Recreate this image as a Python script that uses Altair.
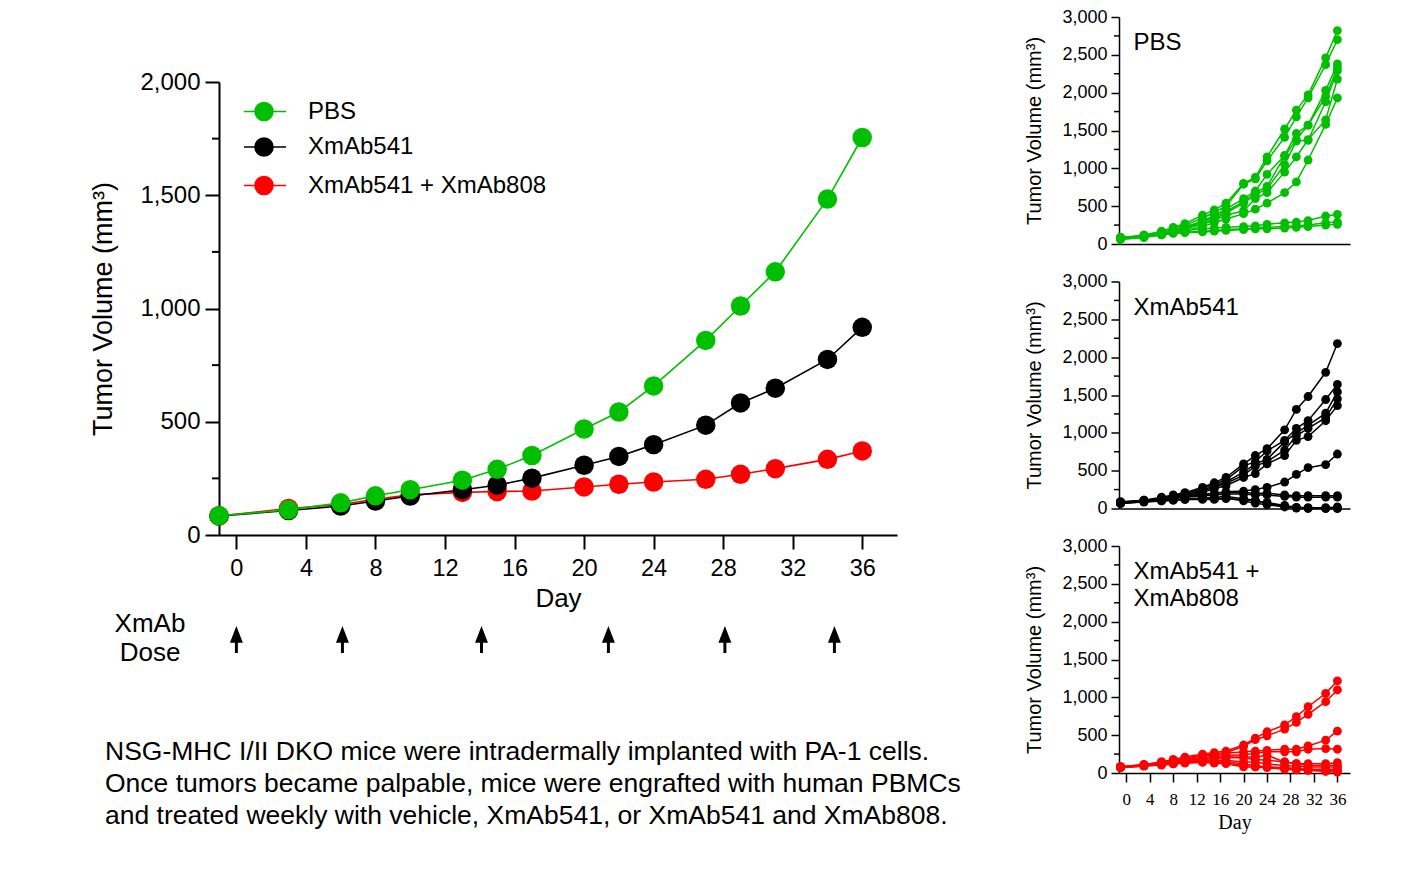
import altair as alt
import pandas as pd

SANS = "Liberation Sans"
SERIF = "Liberation Serif"

# ---------------- data ----------------
days = [-1, 3, 6, 8, 10, 13, 15, 17, 20, 22, 24, 27, 29, 31, 34, 36]
group_names = ["PBS", "XmAb541", "XmAb541 + XmAb808"]
group_colors = ["#00BF00", "#000000", "#FF0000"]

pbs_mean = [85, 111, 142, 173, 200, 242, 290, 351, 468, 543, 658, 859, 1011, 1162, 1483, 1755]
xmab541_mean = [84, 108, 128, 150, 172, 200, 220, 251, 308, 347, 399, 485, 583, 648, 775, 917]
combo_mean = [84, 117, 135, 158, 177, 188, 192, 194, 212, 224, 234, 246, 268, 293, 334, 371]

dose_days = [0, 6.1, 14.1, 21.4, 28.1, 34.4]

main_x_ticks = [0, 4, 8, 12, 16, 20, 24, 28, 32, 36]
main_y_ticks = [0, 500, 1000, 1500, 2000]
main_y_minor = [250, 750, 1250, 1750]
panel_y_ticks = [0, 500, 1000, 1500, 2000, 2500, 3000]
panel_y_minor = [250, 750, 1250, 1750, 2250, 2750]

pbs_mice = [
    [80, 120, 170, 220, 270, 380, 450, 540, 800, 880, 1150, 1520, 1770, 1970, 2460, 2820],
    [80, 110, 160, 210, 250, 340, 420, 500, 790, 860, 1100, 1410, 1680, 1930, 2370, 2700],
    [75, 100, 150, 190, 230, 300, 380, 460, 600, 700, 920, 1170, 1460, 1570, 2030, 2380],
    [70, 100, 140, 180, 220, 290, 360, 430, 560, 680, 760, 1160, 1380, 1570, 1950, 2330],
    [70, 95, 130, 170, 210, 270, 330, 410, 540, 650, 730, 1050, 1360, 1370, 1880, 2290],
    [65, 90, 130, 160, 200, 260, 310, 380, 440, 600, 680, 950, 1150, 1380, 1640, 2180],
    [60, 85, 120, 150, 180, 230, 280, 330, 400, 460, 540, 680, 820, 1110, 1580, 1930],
    [90, 110, 140, 160, 180, 200, 210, 220, 230, 240, 260, 280, 290, 310, 370, 390],
    [85, 100, 130, 150, 160, 170, 180, 190, 200, 210, 220, 230, 240, 250, 280, 290],
    [80, 95, 120, 140, 150, 160, 170, 180, 190, 200, 200, 210, 220, 230, 250, 260],
]
xmab541_mice = [
    [80, 110, 150, 180, 210, 280, 340, 410, 590, 700, 790, 1040, 1310, 1480, 1800, 2180],
    [75, 100, 140, 170, 200, 260, 320, 380, 560, 620, 760, 900, 1060, 1160, 1440, 1640],
    [70, 100, 130, 160, 190, 240, 300, 350, 480, 590, 650, 880, 1000, 1100, 1260, 1540],
    [70, 95, 130, 150, 180, 230, 280, 330, 440, 560, 620, 770, 960, 1060, 1200, 1450],
    [65, 90, 120, 140, 170, 210, 260, 300, 410, 460, 590, 700, 900, 950, 1160, 1360],
    [80, 100, 120, 140, 160, 180, 200, 220, 230, 250, 280, 350, 450, 540, 580, 720],
    [90, 110, 130, 150, 170, 190, 200, 210, 210, 200, 200, 180, 170, 170, 170, 170],
    [85, 100, 120, 140, 150, 170, 180, 190, 190, 180, 180, 160, 150, 150, 150, 150],
    [80, 95, 110, 120, 130, 140, 150, 160, 130, 110, 66, 30, 10, 5, 0, 0],
    [75, 90, 100, 110, 120, 130, 130, 140, 100, 70, 50, 20, 5, 0, 0, 0],
    [70, 85, 100, 110, 120, 120, 120, 130, 120, 100, 80, 40, 15, 10, 10, 20],
]
combo_mice = [
    [80, 110, 150, 180, 210, 250, 270, 290, 370, 460, 545, 635, 745, 876, 1053, 1217],
    [75, 105, 140, 170, 200, 230, 250, 270, 350, 440, 490, 580, 670, 775, 942, 1097],
    [80, 110, 140, 160, 190, 220, 240, 260, 280, 290, 300, 315, 315, 358, 434, 553],
    [75, 100, 130, 150, 180, 200, 220, 230, 240, 260, 280, 280, 280, 314, 323, 314],
    [80, 105, 130, 150, 170, 190, 200, 210, 212, 212, 235, 146, 123, 123, 123, 137],
    [85, 110, 135, 155, 175, 180, 190, 200, 200, 180, 168, 146, 123, 100, 100, 100],
    [80, 100, 120, 140, 160, 170, 170, 170, 146, 146, 120, 100, 90, 80, 80, 80],
    [75, 95, 115, 130, 150, 160, 160, 150, 120, 100, 80, 70, 60, 50, 50, 50],
    [70, 95, 110, 120, 140, 150, 140, 130, 100, 80, 80, 60, 60, 35, 35, 30],
    [70, 90, 105, 120, 130, 140, 130, 123, 80, 80, 70, 50, 40, 35, 20, 13],
]

main_y_title = "Tumor Volume (mm³)"
panel_y_title = "Tumor Volume (mm³)"
x_title = "Day"
dose_label = ["XmAb", "Dose"]
panel_labels = [["PBS"], ["XmAb541"], ["XmAb541 +", "XmAb808"]]
footnote_lines = [
    "NSG-MHC I/II DKO mice were intradermally implanted with PA-1 cells.",
    "Once tumors became palpable, mice were engrafted with human PBMCs",
    "and treated weekly with vehicle, XmAb541, or XmAb541 and XmAb808.",
]

ARROW = "M0,-1L0.48,0.24L0.11,0.24L0.11,1L-0.11,1L-0.11,0.24L-0.48,0.24Z"
one = pd.DataFrame({"k": [0]})

# ---------------- main chart ----------------
MW, MH = 678, 453
mx = alt.X("day:Q", scale=alt.Scale(domain=[-1, 38], nice=False, zero=False),
           axis=alt.Axis(values=main_x_ticks, title=x_title, tickSize=14, tickWidth=2,
                         domainWidth=2, labelFontSize=23.5, labelPadding=19,
                         labelBaseline="middle", titleFontSize=26, titleBaseline="middle",
                         titleX=MW / 2, titleY=63))
my = alt.Y("vol:Q", scale=alt.Scale(domain=[0, 2000], nice=False),
           axis=alt.Axis(values=main_y_ticks, format=",d", title=main_y_title, tickSize=14,
                         tickWidth=2, domainWidth=2, labelFontSize=24, labelPadding=5,
                         titleFontSize=27, titleBaseline="middle", titleX=-116, titleY=MH / 2))

layers = []
layers.append(alt.Chart(pd.DataFrame({"vol": main_y_minor})).mark_rule(color="black", strokeWidth=2)
              .encode(y=my, x=alt.value(-7), x2=alt.value(0)))
# invisible rule fixing the right extent of the left column
layers.append(alt.Chart(one).mark_rule(opacity=0, strokeWidth=0.5)
              .encode(x=alt.value(0), x2=alt.value(797), y=alt.value(1)))

means = [pbs_mean, xmab541_mean, combo_mean]
for gi in [2, 1, 0]:
    df = pd.DataFrame({"day": days, "vol": means[gi]})
    layers.append(alt.Chart(df).mark_line(color=group_colors[gi], strokeWidth=1.6)
                  .encode(x=mx, y=my))
    layers.append(alt.Chart(df).mark_point(filled=True, shape="circle", size=380, opacity=1,
                                           color=group_colors[gi], strokeWidth=0)
                  .encode(x=mx, y=my))

layers.append(alt.Chart(pd.DataFrame({"day": dose_days})).mark_point(
    shape=ARROW, filled=True, size=729, color="black", opacity=1, strokeWidth=0)
    .encode(x=mx, y=alt.value(557.5)))

legend_y = [29.5, 65, 103.5]
for gi in range(3):
    layers.append(alt.Chart(one).mark_rule(color=group_colors[gi], strokeWidth=1.6)
                  .encode(x=alt.value(25), x2=alt.value(67), y=alt.value(legend_y[gi])))
    layers.append(alt.Chart(one).mark_point(filled=True, shape="circle", size=380, opacity=1,
                                            color=group_colors[gi], strokeWidth=0)
                  .encode(x=alt.value(45), y=alt.value(legend_y[gi])))
    layers.append(alt.Chart(one).mark_text(text=group_names[gi], font=SANS, fontSize=24,
                                           align="left", baseline="middle", color="black")
                  .encode(x=alt.value(89), y=alt.value(legend_y[gi])))

layers.append(alt.Chart(one).mark_text(text=dose_label, font=SANS, fontSize=26, lineHeight=29,
                                       align="center", baseline="alphabetic", color="black")
              .encode(x=alt.value(-69), y=alt.value(550)))
layers.append(alt.Chart(one).mark_text(text=footnote_lines, font=SANS, fontSize=26.5, lineHeight=32,
                                       align="left", baseline="alphabetic", color="black")
              .encode(x=alt.value(-114), y=alt.value(678)))

main = alt.layer(*layers).properties(width=MW, height=MH)

# spacer that pushes the main plot down relative to the first small panel
spacer = alt.Chart(one).mark_rule(opacity=0, strokeWidth=0.5).encode(
    x=alt.value(0), x2=alt.value(MW), y=alt.value(1)).properties(width=MW, height=65)

left = alt.vconcat(spacer, main, spacing=0, bounds="flush")

# ---------------- panels ----------------
PW, PH = 231, 227


def panel(mice, color, label_lines, show_x):
    rows = []
    for m, series in enumerate(mice):
        for d, v in zip(days, series):
            rows.append({"mouse": m, "day": d, "vol": v})
    df = pd.DataFrame(rows)
    if show_x:
        xaxis = alt.Axis(values=main_x_ticks, title=x_title, tickSize=9, tickWidth=1.5,
                         domainWidth=1.5, labelFont=SERIF, labelFontSize=17,
                         labelBaseline="middle", labelPadding=17, titleFont=SERIF,
                         titleFontSize=20, titleBaseline="middle", titleX=PW / 2, titleY=49)
    else:
        xaxis = alt.Axis(ticks=False, labels=False, title="", domainWidth=1.5)
    px = alt.X("day:Q", scale=alt.Scale(domain=[-1.25, 38.15], nice=False, zero=False), axis=xaxis)
    py = alt.Y("vol:Q", scale=alt.Scale(domain=[0, 3000], nice=False),
               axis=alt.Axis(values=panel_y_ticks, format=",d", title=panel_y_title, tickSize=8,
                             tickWidth=1.5, domainWidth=1.5, labelFontSize=18, labelPadding=4,
                             titleFontSize=20, titleBaseline="middle", titleX=-84.5,
                             titleY=PH / 2))
    minor = alt.Chart(pd.DataFrame({"vol": panel_y_minor})).mark_rule(color="black", strokeWidth=1.5) \
        .encode(y=py, x=alt.value(-5), x2=alt.value(0))
    lines = alt.Chart(df).mark_line(color=color, strokeWidth=1.5).encode(
        x=px, y=py, detail="mouse:N")
    pts = alt.Chart(df).mark_point(filled=True, shape="circle", size=78, opacity=1,
                                   color=color, strokeWidth=0).encode(x=px, y=py)
    if len(label_lines) == 1:
        lab = alt.Chart(one).mark_text(text=label_lines[0], font=SANS, fontSize=24, align="left",
                                       baseline="middle", color="black") \
            .encode(x=alt.value(14.5), y=alt.value(26))
    else:
        lab = alt.Chart(one).mark_text(text=label_lines, font=SANS, fontSize=24, lineHeight=27,
                                       align="left", baseline="alphabetic", color="black") \
            .encode(x=alt.value(14.5), y=alt.value(32.5))
    return alt.layer(minor, lines, pts, lab).properties(width=PW, height=PH)


p1 = panel(pbs_mice, group_colors[0], panel_labels[0], False)
p2 = panel(xmab541_mice, group_colors[1], panel_labels[1], False)
p3 = panel(combo_mice, group_colors[2], panel_labels[2], True)

panels = alt.vconcat(p1, p2, p3, spacing=37.5, bounds="flush")

chart = alt.hconcat(left, panels, spacing=6).properties(
    padding={"left": 88, "top": 7, "right": 5, "bottom": 5}
).configure_view(stroke="transparent").configure_axis(
    domainColor="black", tickColor="black", labelColor="black", titleColor="black",
    labelFont=SANS, titleFont=SANS, titleFontWeight="normal", grid=False,
    labelOverlap=False, labelFlush=False
)

chart.save("out.html", embed_options={"renderer": "svg", "actions": False})
